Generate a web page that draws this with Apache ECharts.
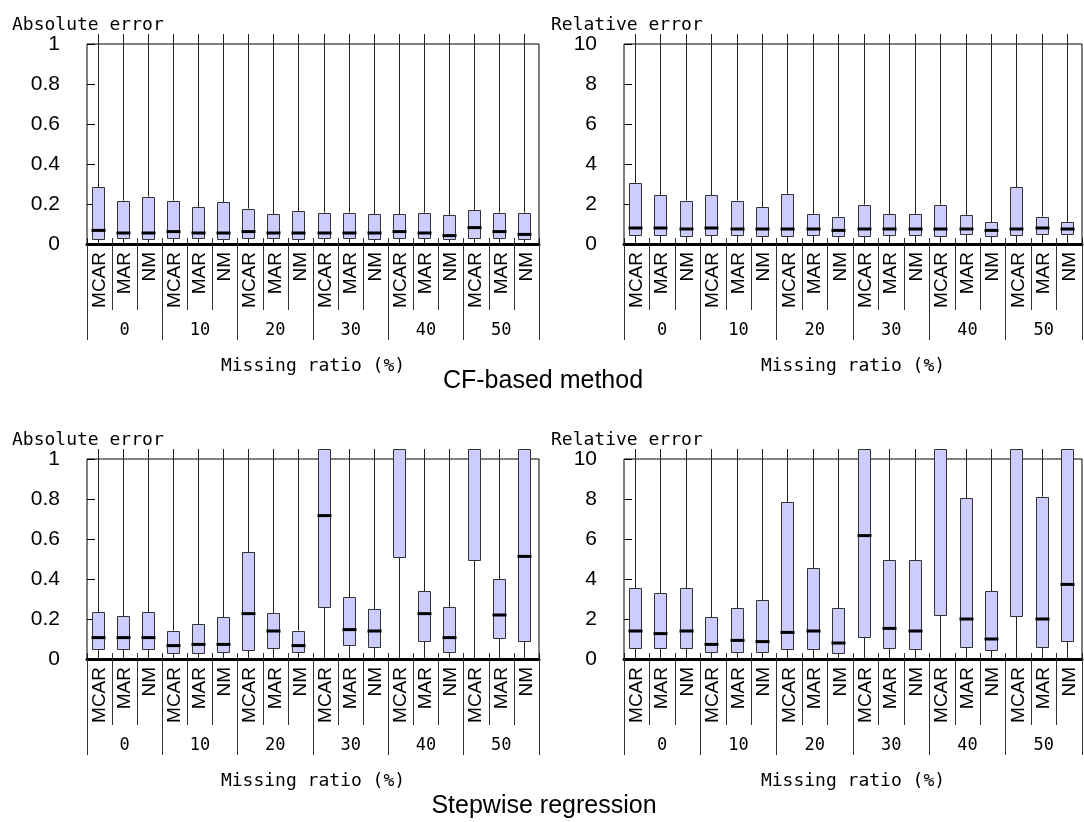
<!DOCTYPE html>
<html><head><meta charset="utf-8">
<script src="https://cdn.jsdelivr.net/npm/echarts@6/dist/echarts.min.js"></script>
<style>html,body{margin:0;padding:0;background:#fff}#c{width:1084px;height:822px}</style>
</head><body><div id="c"></div>
<script>
// ---------- data ----------
const groups = ['0', '10', '20', '30', '40', '50'];
const mechanisms = ['MCAR', 'MAR', 'NM'];
const absTicks = [0, 0.2, 0.4, 0.6, 0.8, 1];
const relTicks = [0, 2, 4, 6, 8, 10];

// CF-based method, absolute error
const cfAbsLow  = [0,0,0,0,0,0,0,0,0,0,0,0,0,0,0,0,0,0];
const cfAbsQ1   = [0.025,0.028,0.025,0.028,0.028,0.025,0.028,0.028,0.025,0.028,0.028,0.025,0.028,0.028,0.025,0.028,0.028,0.025];
const cfAbsMed  = [0.068,0.055,0.055,0.062,0.055,0.055,0.062,0.055,0.055,0.055,0.055,0.055,0.062,0.055,0.042,0.082,0.062,0.048];
const cfAbsQ3   = [0.283,0.217,0.237,0.217,0.183,0.21,0.177,0.15,0.163,0.157,0.157,0.15,0.15,0.157,0.143,0.17,0.157,0.157];
const cfAbsHigh = [1.05,1.05,1.05,1.05,1.05,1.05,1.05,1.05,1.05,1.05,1.05,1.05,1.05,1.05,1.05,1.05,1.05,1.05];

// CF-based method, relative error
const cfRelLow  = [0,0,0,0,0,0,0,0,0,0,0,0,0,0,0,0,0,0];
const cfRelQ1   = [0.45,0.45,0.38,0.45,0.45,0.38,0.38,0.45,0.38,0.38,0.45,0.45,0.38,0.52,0.38,0.45,0.52,0.52];
const cfRelMed  = [0.8,0.8,0.75,0.8,0.75,0.75,0.75,0.75,0.68,0.75,0.75,0.75,0.75,0.75,0.68,0.75,0.8,0.75];
const cfRelQ3   = [3.03,2.43,2.17,2.43,2.17,1.83,2.5,1.5,1.37,1.97,1.5,1.5,1.97,1.43,1.1,2.83,1.37,1.1];
const cfRelHigh = [10.5,10.5,10.5,10.5,10.5,10.5,10.5,10.5,10.5,10.5,10.5,10.5,10.5,10.5,10.5,10.5,10.5,10.5];

// Stepwise regression, absolute error
const swAbsLow  = [0,0,0,0,0,0,0,0,0,0,0,0,0,0,0,0,0,0];
const swAbsQ1   = [0.05,0.05,0.05,0.03,0.03,0.037,0.043,0.055,0.037,0.26,0.07,0.06,0.508,0.088,0.037,0.495,0.103,0.09];
const swAbsMed  = [0.107,0.107,0.107,0.067,0.073,0.073,0.227,0.14,0.067,0.717,0.147,0.14,null,0.227,0.107,null,0.22,0.513];
const swAbsQ3   = [0.235,0.215,0.235,0.142,0.175,0.208,0.535,0.23,0.142,1.05,0.308,0.248,1.05,0.34,0.26,1.05,0.4,1.05];
const swAbsHigh = [1.05,1.05,1.05,1.05,1.05,1.05,1.05,1.05,1.05,1.05,1.05,1.05,1.05,1.05,1.05,1.05,1.05,1.05];

// Stepwise regression, relative error
const swRelLow  = [0,0,0,0,0,0,0,0,0,0,0,0,0,0,0,0,0,0];
const swRelQ1   = [0.55,0.55,0.55,0.37,0.37,0.37,0.5,0.5,0.3,1.1,0.55,0.5,2.22,0.62,0.43,2.15,0.62,0.9];
const swRelMed  = [1.4,1.27,1.4,0.73,0.93,0.87,1.33,1.4,0.8,6.17,1.53,1.4,null,2.0,1.0,null,2.0,3.73];
const swRelQ3   = [3.53,3.28,3.53,2.08,2.55,2.95,7.85,4.55,2.55,10.5,4.95,4.95,10.5,8.05,3.4,10.5,8.12,10.5];
const swRelHigh = [10.5,10.5,10.5,10.5,10.5,10.5,10.5,10.5,10.5,10.5,10.5,10.5,10.5,10.5,10.5,10.5,10.5,10.5];

// ---------- layout ----------
const panels = [
  { grid: {left: 87,  top: 34,  width: 452, height: 210}, yName: 'Absolute error', ticks: absTicks, frameTop: 1,  yMax: 1.05, interval: 0.2,
    low: cfAbsLow, q1: cfAbsQ1, med: cfAbsMed, q3: cfAbsQ3, high: cfAbsHigh },
  { grid: {left: 624, top: 34,  width: 458, height: 210}, yName: 'Relative error', ticks: relTicks, frameTop: 10, yMax: 10.5, interval: 2,
    low: cfRelLow, q1: cfRelQ1, med: cfRelMed, q3: cfRelQ3, high: cfRelHigh },
  { grid: {left: 87,  top: 449, width: 452, height: 210}, yName: 'Absolute error', ticks: absTicks, frameTop: 1,  yMax: 1.05, interval: 0.2,
    low: swAbsLow, q1: swAbsQ1, med: swAbsMed, q3: swAbsQ3, high: swAbsHigh },
  { grid: {left: 624, top: 449, width: 458, height: 210}, yName: 'Relative error', ticks: relTicks, frameTop: 10, yMax: 10.5, interval: 2,
    low: swRelLow, q1: swRelQ1, med: swRelMed, q3: swRelQ3, high: swRelHigh }
];

const categories = [];
groups.forEach(() => mechanisms.forEach(m => categories.push(m)));

const LABEL_FONT = "'Liberation Sans', Arial, sans-serif";
const MONO_FONT = "'DejaVu Sans Mono', monospace";

function renderBox(params, api) {
  const i = api.value(0);
  const lo = api.value(1), q1 = api.value(2), med = api.value(3), q3 = api.value(4), hi = api.value(5);
  const cx = Math.round(api.coord([i, 0])[0]) - 1.5;
  const bw = Math.round(api.size([1, 0])[0] * 0.48);
  const y = v => api.coord([i, v])[1];
  const children = [];
  const whisker = {stroke: '#222', lineWidth: 1};
  children.push({type: 'line', shape: {x1: cx, y1: y(hi), x2: cx, y2: y(q3)}, style: whisker});
  children.push({type: 'line', shape: {x1: cx, y1: y(q1), x2: cx, y2: y(lo)}, style: whisker});
  const yt = Math.round(y(q3)) + 0.5, yb = Math.round(y(q1)) + 0.5;
  children.push({type: 'rect', shape: {x: cx - bw / 2, y: yt, width: bw, height: yb - yt},
    style: {fill: '#ccccff', stroke: '#333', lineWidth: 1}});
  if (!isNaN(med)) {
    const ym = y(med);
    children.push({type: 'line', shape: {x1: cx - bw / 2 - 1, y1: ym, x2: cx + bw / 2 + 1, y2: ym},
      style: {stroke: '#000', lineWidth: 3}});
  }
  return {type: 'group', children};
}

const option = {
  animation: false,
  backgroundColor: '#fff',
  grid: [], xAxis: [], yAxis: [], series: [], graphic: []
};

panels.forEach((p, k) => {
  option.grid.push(Object.assign({containLabel: false}, p.grid));
  // category labels + outer separators + thick baseline
  option.xAxis.push({
    gridIndex: k, type: 'category', position: 'bottom', data: categories, boundaryGap: true,
    axisLine: {show: true, onZero: false, lineStyle: {color: '#000', width: 3}},
    axisTick: {show: true, interval: 0, length: 66, lineStyle: {color: '#333', width: 1}},
    axisLabel: {interval: 0, rotate: 90, margin: 8, fontSize: 19, color: '#000', fontFamily: LABEL_FONT}
  });
  // short inner separators
  option.xAxis.push({
    gridIndex: k, type: 'category', position: 'bottom', data: categories, boundaryGap: true,
    axisLine: {show: false, onZero: false},
    axisTick: {show: true, interval: 0, inside: true, length: 6, lineStyle: {color: '#333', width: 1}},
    axisLabel: {show: false}
  });
  // group (missing ratio) axis
  option.xAxis.push({
    gridIndex: k, type: 'category', position: 'bottom', data: groups, boundaryGap: true,
    axisLine: {show: false, onZero: false},
    axisTick: {show: true, interval: 0, length: 96, lineStyle: {color: '#333', width: 1}},
    axisLabel: {interval: 0, margin: 78, fontSize: 17, color: '#000', fontFamily: MONO_FONT}
  });
  option.yAxis.push({
    gridIndex: k, type: 'value', min: 0, max: p.yMax, interval: p.interval,
    axisLine: {show: false}, splitLine: {show: false},
    axisTick: {show: true, inside: true, length: 8, lineStyle: {color: '#000'}, customValues: p.ticks},
    axisLabel: {margin: 27, fontSize: 21, color: '#000', fontFamily: LABEL_FONT, customValues: p.ticks,
      formatter: v => (v > p.frameTop + 1e-9 ? '' : String(+v.toFixed(2)))}
  });
  const data = categories.map((c, i) => [i, p.low[i], p.q1[i], p.med[i] == null ? NaN : p.med[i], p.q3[i], p.high[i]]);
  option.series.push({
    type: 'custom', xAxisIndex: 3 * k, yAxisIndex: k, clip: true,
    encode: {x: 0, y: [1, 2, 3, 4, 5]},
    renderItem: renderBox, data: data, z: 3
  });
  option.series.push({
    type: 'line', xAxisIndex: 3 * k, yAxisIndex: k, data: [], silent: true, z: 4,
    markArea: {silent: true, itemStyle: {color: 'rgba(0,0,0,0)', borderColor: '#000', borderWidth: 1},
      data: [[{yAxis: 0}, {yAxis: p.frameTop}]]}
  });
  const g = p.grid;
  option.graphic.push({type: 'text', left: k % 2 === 0 ? 12 : 551, top: g.top - 18,
    style: {text: p.yName, font: '18px ' + MONO_FONT, fill: '#000'}});
  option.graphic.push({type: 'text', x: g.left + g.width / 2, y: g.top + g.height + 122,
    style: {text: 'Missing ratio (%)', font: '18px ' + MONO_FONT, fill: '#000', align: 'center', verticalAlign: 'middle'}});
});

option.graphic.push({type: 'text', x: 543, y: 381,
  style: {text: 'CF-based method', font: '25px ' + LABEL_FONT, fill: '#000', align: 'center', verticalAlign: 'middle'}});
option.graphic.push({type: 'text', x: 544, y: 806,
  style: {text: 'Stepwise regression', font: '25px ' + LABEL_FONT, fill: '#000', align: 'center', verticalAlign: 'middle'}});

const chart = echarts.init(document.getElementById('c'), null, {renderer: 'canvas'});
chart.setOption(option);
</script>
</body></html>
